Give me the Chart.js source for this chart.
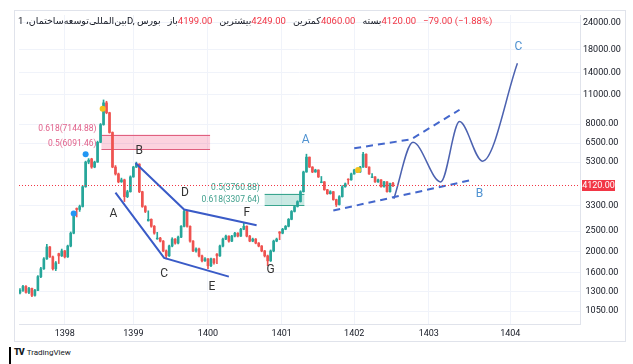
<!DOCTYPE html>
<html>
<head>
<meta charset="utf-8">
<script src="https://cdn.jsdelivr.net/npm/chart.js@4"></script>
<style>
  html, body { margin: 0; padding: 0; background: #fff; }
  body { width: 633px; height: 364px; position: relative; overflow: hidden; font-family: Roboto, 'DejaVu Sans', sans-serif; }
  #frame { position: absolute; left: 14px; top: 10px; width: 612px; height: 332px; border: 1px solid #e0e3eb; box-sizing: border-box; }
  #frame canvas { position: absolute; left: 0; top: 0; }
  #legend { position: absolute; left: 18px; top: 15px; display: flex; align-items: center; font-size: 9.5px; color: #131722; white-space: pre; z-index: 2; }
  #legend .v { color: #f23645; }
  #legend .gap { margin-left: 7px; }
  #bar { position: absolute; left: 9px; top: 347px; width: 2px; height: 17px; background: #000; }
  #brand { position: absolute; left: 14px; top: 347px; font-size: 8px; color: #131722; }
  #brand b { font-size: 9px; font-weight: 900; letter-spacing: -1px; margin-right: 3px; }
</style>
</head>
<body>
<div id="frame"><canvas id="chart" width="610" height="330"></canvas></div>
<div id="legend">
  <span>1 ،</span><span dir="rtl">بین‌المللی‌توسعه‌ساختمان</span><span>D, </span><span dir="rtl">بورس</span>
  <span class="gap" dir="rtl">باز</span><span class="v">4199.00</span>
  <span class="gap" dir="rtl">بیشترین</span><span class="v">4249.00</span>
  <span class="gap" dir="rtl">کمترین</span><span class="v">4060.00</span>
  <span class="gap" dir="rtl">بسته</span><span class="v">4120.00</span>
  <span class="v gap">−79.00 (−1.88%)</span>
</div>
<div id="bar"></div>
<div id="brand"><b>TV</b>TradingView</div>
<script>
// DATA (x = bar number)
var opens = [1280,1315,1372,1287,1343,1246,1315,1527,1663,1852,
  2107,1893,1663,1960,1913,2018,1893,2129,2448,3200,
  3166,3269,4051,5295,5480,5018,5295,6562,7958,10073,
  9051,7304,5018,4656,4273,4366,3639,3839,4509,5018,
  5182,3839,3269,2800,2844,2638,2300,2320,2246,2018,
  1913,2129,2295,2198,2345,2638,3099,2638,2246,2018,
  2062,1913,1813,1852,1718,1852,1950,1913,2129,2295,
  2371,2246,2371,2448,2371,2555,2638,2371,2246,2295,
  2198,2129,2018,1913,1813,2018,2246,2480,2448,2555,
  2638,2844,3099,3269,3449,3839,4757,5587,5018,4757,
  4859,4240,4273,3922,3758,3839,3523,3340,3639,4051,
  4400,4366,4656,4859,4757,5018,5770,5018,4480,4509,
  4273,4366,4051,4273,3839,4199]
var highs = [1340,1390,1385,1360,1350,1330,1545,1690,1880,2170,
  2120,1910,1800,1970,2060,2030,2150,2480,2980,3220,
  3320,4100,5350,5500,5520,5350,6650,8050,10400,10250,
  9100,7350,5100,4700,4450,4400,3900,4560,5060,5295,
  5200,3860,3300,3120,2860,2660,2470,2340,2260,2040,
  2150,2330,2310,2370,2660,3166,3110,2650,2260,2090,
  2080,1930,1880,1860,1870,1860,1960,2150,2320,2400,
  2380,2390,2470,2460,2580,2724,2650,2390,2320,2310,
  2210,2140,2030,1930,2040,2270,2320,2490,2580,2660,
  2870,3130,3300,3480,3880,4800,5770,5600,5040,4900,
  4870,4530,4290,3940,3880,3850,3540,3680,4100,4220,
  4420,4700,4900,4880,5060,5895,5790,5030,4670,4530,
  4400,4380,4300,4290,4220,4249]
var lows = [1265,1300,1275,1270,1230,1235,1310,1510,1650,1840,
  1880,1640,1630,1760,1900,1870,1880,2110,2430,2920,
  3100,3250,4030,5200,4950,4980,5280,6540,7900,8950,
  7250,4980,4600,4230,4250,3449,3600,3820,4490,4990,
  3800,3240,3060,2790,2610,2420,2290,2225,2000,1852,
  1900,2110,2170,2180,2330,2620,2610,2220,2000,1990,
  1890,1790,1800,1663,1700,1750,1760,1900,2110,2280,
  2220,2230,2350,2350,2360,2540,2350,2230,2230,2180,
  2110,2000,1890,1718,1800,2000,2230,2280,2430,2540,
  2620,2830,3080,3250,3430,3820,4740,4990,4720,4740,
  4480,4230,3900,3730,3740,3500,3269,3320,3620,4030,
  4160,4350,4640,4730,4740,5000,4990,4630,4470,4250,
  4250,4030,4030,3820,3820,4060]
var closes = [1315,1372,1287,1343,1246,1315,1527,1663,1852,2107,
  1893,1663,1774,1913,2018,1893,2129,2448,2937,3166,
  3269,4051,5295,5410,5018,5295,6562,7958,10073,9051,
  7304,5018,4656,4273,4366,3639,3839,4509,5018,5182,
  3839,3269,3099,2844,2638,2448,2320,2246,2018,1913,
  2129,2295,2198,2345,2638,3099,2638,2246,2018,2062,
  1913,1813,1852,1718,1852,1774,1913,2129,2295,2371,
  2246,2371,2448,2371,2555,2638,2371,2246,2295,2198,
  2129,2018,1913,1813,2018,2246,2295,2448,2555,2638,
  2844,3099,3269,3449,3839,4757,5587,5018,4757,4859,
  4509,4273,3922,3758,3839,3523,3340,3639,4051,4182,
  4366,4656,4859,4757,5018,5770,5018,4656,4509,4273,
  4366,4051,4273,3839,4199,4120]

// AXES
var yearLabels = ['1398','1399','1400','1401','1402','1403','1404']
var yearPos = [15, 38, 63, 87.7, 112, 137, 164.3]
var priceTicks = [1050,1300,1600,2000,2500,3300,5300,6500,8000,11000,14000,18000,24000]

// DRAWINGS (bar number, price)
var chanUpX = [38.7, 55, 79.3]
var chanUpY = [5240, 3166, 2666]
var chanLowX = [32, 48.3, 70]
var chanLowY = [3798, 1872, 1527]
var dashUpX = [112, 131, 147.3]
var dashUpY = [6153, 6775, 9346]
var dashLowX = [105, 151.7]
var dashLowY = [3130, 4370]
var pathX = [125.3, 131.7, 141, 147.3, 155, 166.7]
var pathY = [3560, 6560, 4270, 8220, 5350, 15470]
var yellowX = [27.7, 113.3]
var yellowY = [9450, 4859]
var blueX = [18, 22]
var blueY = [3034, 5770]

var waveLetters = ['A','B','C','D','E','F','G']
var waveX = [31.3, 40, 48.3, 55.3, 64.3, 76, 84]
var waveY = [3000, 5960, 1577, 3798, 1358, 3034, 1646]
var projLetters = ['A','B','C']
var projX = [95.7, 154, 167]
var projY = [6704, 3758, 18558]

var redZoneX = [27.3, 63.7]
var redLevels = [7144.88, 6091.46]
var redRatios = ['0.618', '0.5']
var greenZoneX = [82, 95.3]
var greenLevels = [3760.88, 3307.64]
var greenRatios = ['0.5', '0.618']

// COLORS
var up = '#26a69a'
var down = '#ef5350'
var priceRed = '#f23645'
var grid = '#f0f3fa'
var lineBlue = '#3a5bc7'
var font = 'Roboto, "DejaVu Sans", sans-serif'

function pts(xs, ys) {
  return xs.map(function (x, i) { return { x: x, y: ys[i] } })
}
function candleColor(ctx) {
  var i = ctx.dataIndex
  return closes[i] >= opens[i] ? up : down
}
function noPad(s) {
  s.paddingTop = 0; s.paddingBottom = 0; s.paddingLeft = 0; s.paddingRight = 0
}

var overlay = {
  id: 'overlay',
  beforeDatasetsDraw: function (chart) {
    var c = chart.ctx, xs = chart.scales.x, ys = chart.scales.y
    zone(redZoneX, redLevels, 'rgba(242,54,108,0.22)', '#e0607f')
    zone(greenZoneX, greenLevels, 'rgba(8,153,129,0.22)', '#3aa58f')
    function zone(zx, lv, fill, stroke) {
      var x0 = xs.getPixelForValue(zx[0]), x1 = xs.getPixelForValue(zx[1])
      var y0 = ys.getPixelForValue(lv[0]), y1 = ys.getPixelForValue(lv[1])
      c.save()
      c.fillStyle = fill
      c.fillRect(x0, y0, x1 - x0, y1 - y0)
      c.strokeStyle = stroke
      c.lineWidth = 1
      c.beginPath()
      c.moveTo(x0, Math.round(y0) + 0.5); c.lineTo(x1, Math.round(y0) + 0.5)
      c.moveTo(x0, Math.round(y1) + 0.5); c.lineTo(x1, Math.round(y1) + 0.5)
      c.stroke()
      c.restore()
    }
  },
  afterDatasetsDraw: function (chart) {
    var c = chart.ctx, xs = chart.scales.x, ys = chart.scales.y, a = chart.chartArea
    c.save()
    // fib texts
    c.font = '8.5px ' + font
    c.textAlign = 'right'
    c.textBaseline = 'bottom'
    c.fillStyle = '#e0608a'
    redLevels.forEach(function (v, i) {
      c.fillText(redRatios[i] + '(' + v.toFixed(2) + ')', xs.getPixelForValue(redZoneX[0]) - 5, ys.getPixelForValue(v) - 1)
    })
    c.fillStyle = '#3d9f8c'
    greenLevels.forEach(function (v, i) {
      c.fillText(greenRatios[i] + '(' + v.toFixed(2) + ')', xs.getPixelForValue(greenZoneX[0]) - 5, ys.getPixelForValue(v) - 1)
    })
    // wave letters
    c.font = '12px ' + font
    c.textAlign = 'center'
    c.textBaseline = 'middle'
    c.fillStyle = '#333333'
    waveLetters.forEach(function (t, i) {
      c.fillText(t, xs.getPixelForValue(waveX[i]), ys.getPixelForValue(waveY[i]))
    })
    c.fillStyle = '#4f92d1'
    projLetters.forEach(function (t, i) {
      c.fillText(t, xs.getPixelForValue(projX[i]), ys.getPixelForValue(projY[i]))
    })
    // last price line
    var py = Math.round(ys.getPixelForValue(closes[closes.length - 1])) + 0.5
    c.strokeStyle = priceRed
    c.lineWidth = 1
    c.setLineDash([1, 2])
    c.beginPath()
    c.moveTo(a.left, py); c.lineTo(a.right, py)
    c.stroke()
    c.restore()
  },
  afterDraw: function (chart) {
    var c = chart.ctx, ys = chart.scales.y, a = chart.chartArea
    var last = closes[closes.length - 1]
    var py = ys.getPixelForValue(last)
    c.save()
    c.fillStyle = priceRed
    c.fillRect(a.right + 2, Math.round(py) - 5, 33, 11)
    c.fillStyle = '#fff'
    c.font = '9px ' + font
    c.textAlign = 'center'
    c.textBaseline = 'middle'
    c.fillText(last.toFixed(2), a.right + 18.5, Math.round(py) + 0.5)
    c.restore()
  }
}

var wicks = closes.map(function (c, i) { return { x: i, y: [lows[i], highs[i]] } })
var bodies = closes.map(function (c, i) { return { x: i, y: [opens[i], c] } })

new Chart(document.getElementById('chart'), {
  type: 'bar',
  data: {
    datasets: [
      { data: wicks, backgroundColor: candleColor, barThickness: 1, grouped: false, order: 5 },
      { data: bodies, backgroundColor: candleColor, barThickness: 2, grouped: false, order: 4 },
      { type: 'line', data: pts(chanUpX, chanUpY), borderColor: lineBlue, borderWidth: 2, pointRadius: 0, order: 3 },
      { type: 'line', data: pts(chanLowX, chanLowY), borderColor: lineBlue, borderWidth: 2, pointRadius: 0, order: 3 },
      { type: 'line', data: pts(dashUpX, dashUpY), borderColor: '#4467cc', borderWidth: 2, borderDash: [7, 5], pointRadius: 0, order: 3 },
      { type: 'line', data: pts(dashLowX, dashLowY), borderColor: '#4467cc', borderWidth: 2, borderDash: [7, 5], pointRadius: 0, order: 3 },
      { type: 'line', data: pts(pathX, pathY), borderColor: '#4c62b0', borderWidth: 1.5, cubicInterpolationMode: 'monotone', pointRadius: 0, order: 3 },
      { type: 'scatter', data: pts(yellowX, yellowY), pointRadius: 3, pointBackgroundColor: '#f2c31c', pointBorderWidth: 0, order: 1 },
      { type: 'scatter', data: pts(blueX, blueY), pointRadius: 3, pointBackgroundColor: '#2196f3', pointBorderWidth: 0, order: 1 }
    ]
  },
  options: {
    responsive: false,
    animation: false,
    events: [],
    layout: { padding: { left: 1, top: 0, right: 0, bottom: 0 } },
    plugins: { legend: { display: false }, tooltip: { enabled: false } },
    scales: {
      x: {
        type: 'linear', min: -0.33, max: 187.67, offset: false,
        grid: { color: grid, drawTicks: false, offset: false },
        border: { color: '#e0e3eb' },
        ticks: {
          color: '#131722', font: { size: 9, family: font }, padding: 4, autoSkip: false, maxRotation: 0,
          callback: function (v, i) { return yearLabels[i] }
        },
        afterBuildTicks: function (s) { s.ticks = yearPos.map(function (v) { return { value: v } }) },
        afterFit: function (s) { s.height = 17; noPad(s) }
      },
      y: {
        type: 'logarithmic', position: 'right', min: 913, max: 26150,
        grid: { color: grid, drawTicks: false },
        border: { color: '#e0e3eb' },
        ticks: {
          color: '#131722', font: { size: 9, family: font }, padding: 3, crossAlign: 'center',
          callback: function (v) { return Number(v).toFixed(2) }
        },
        afterBuildTicks: function (s) { s.ticks = priceTicks.map(function (v) { return { value: v } }) },
        afterFit: function (s) { s.width = 45; noPad(s) }
      }
    }
  },
  plugins: [overlay]
})
</script>
</body>
</html>
